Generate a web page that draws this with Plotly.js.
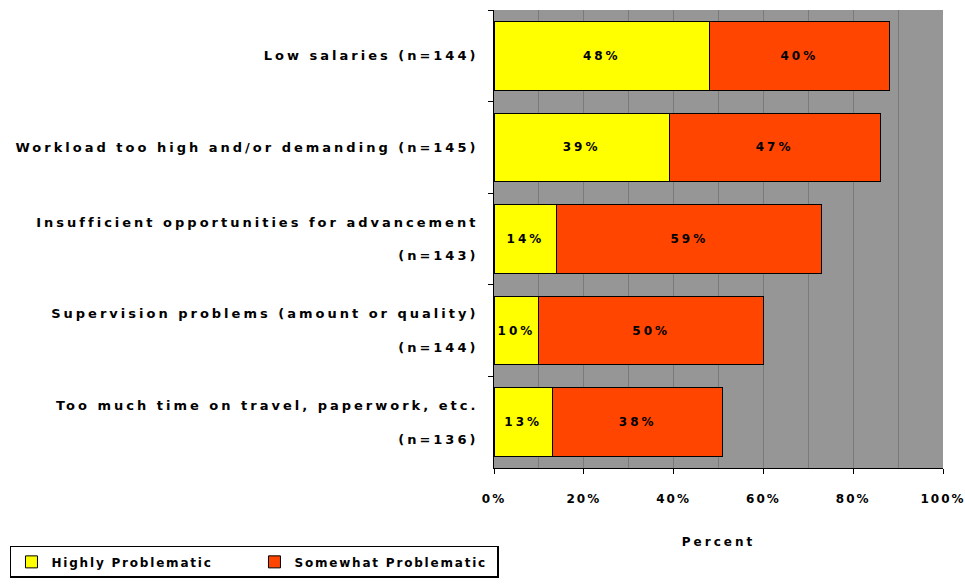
<!DOCTYPE html>
<html>
<head>
<meta charset="utf-8">
<script src="https://cdn.plot.ly/plotly-3.0.1.min.js"></script>
<style>
  html, body { margin: 0; padding: 0; background: #fff; }
  #chart { width: 965px; height: 588px; }
  #chart svg text { letter-spacing: 3px; }
  #chart svg .xtick text { letter-spacing: 2px; }
  #chart svg .legendtext { letter-spacing: 1.8px; }
</style>
</head>
<body>
<div id="chart"></div>
<script>
const categories = [
  "Low salaries (n=144)",
  "Workload too high and/or demanding (n=145)",
  "Insufficient opportunities for advancement<br> <br>(n=143)",
  "Supervision problems (amount or quality)<br> <br>(n=144)",
  "Too much time on travel, paperwork, etc.<br> <br>(n=136)"
];
const highly = [48, 39, 14, 10, 13];
const somewhat = [40, 47, 59, 50, 38];
const seriesNames = ["Highly Problematic", "Somewhat Problematic"];
const tickVals = [0, 20, 40, 60, 80, 100];
const tickText = ["0%", "20%", "40%", "60%", "80%", "100%"];

const font = { family: "DejaVu Sans, Liberation Sans, sans-serif", size: 12, color: "#000", weight: "bold" };
const labelFont = Object.assign({}, font, { size: 13 });

function bar(name, values, color) {
  return {
    type: "bar",
    orientation: "h",
    name: name,
    y: categories,
    x: values,
    text: values.map(v => v + "%"),
    textposition: "inside",
    insidetextanchor: "middle",
    textangle: 0,
    textfont: font,
    hoverinfo: "skip",
    marker: { color: color, line: { color: "#000", width: 1 } }
  };
}

const data = [
  bar(seriesNames[0], highly, "#FFFF00"),
  bar(seriesNames[1], somewhat, "#FF4500")
];

const layout = {
  width: 965, height: 588,
  margin: { l: 493, r: 22, t: 10, b: 118 },
  barmode: "stack",
  bargap: 0.25,
  paper_bgcolor: "#fff",
  plot_bgcolor: "#969696",
  font: font,
  showlegend: true,
  uniformtext: { mode: "show", minsize: 12 },
  xaxis: {
    range: [0, 100],
    tickvals: tickVals, ticktext: tickText,
    ticks: "outside", ticklen: 5, tickcolor: "#000", tickwidth: 1,
    ticklabelstandoff: 15,
    showline: true, linecolor: "#000", linewidth: 1,
    showgrid: true, gridcolor: "#7a7a7a", gridwidth: 1,
    minor: { dtick: 10, showgrid: true, gridcolor: "#7a7a7a", gridwidth: 1 },
    zeroline: false,
    tickfont: font,
    title: { text: "Percent", font: font, standoff: 32 },
    fixedrange: true
  },
  yaxis: {
    type: "category",
    autorange: "reversed",
    tickson: "boundaries",
    ticks: "outside", ticklen: 5, tickcolor: "#000", tickwidth: 1,
    showline: true, linecolor: "#000", linewidth: 1,
    showgrid: false,
    ticklabelstandoff: 12,
    tickfont: labelFont,
    fixedrange: true
  },
  legend: {
    orientation: "h",
    x: -1.078, xanchor: "left",
    y: -0.17, yanchor: "top",
    bordercolor: "#000", borderwidth: 1.5,
    bgcolor: "#fff",
    font: font,
    entrywidth: 198, entrywidthmode: "pixels",
    traceorder: "normal"
  }
};

Plotly.newPlot("chart", data, layout, { staticPlot: true, displayModeBar: false });
</script>
</body>
</html>
